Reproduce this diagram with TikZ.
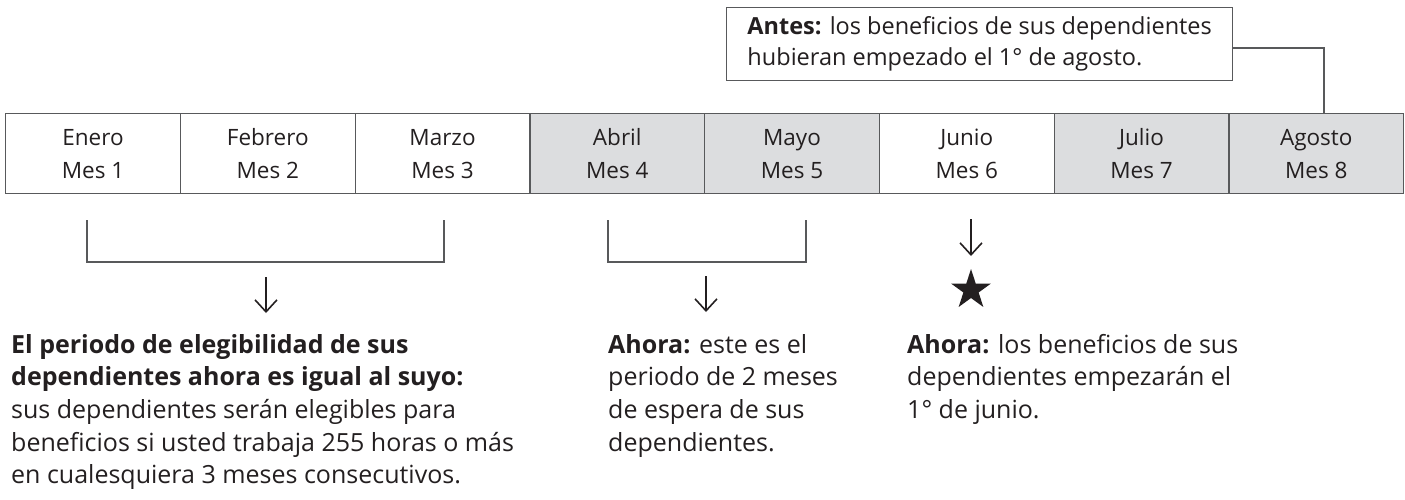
\documentclass[tikz,border=0pt]{standalone}
\usepackage{fontspec}
\setmainfont{Open Sans}
\usetikzlibrary{arrows.meta,shapes.geometric}
\definecolor{ink}{HTML}{231F20}
\definecolor{cellgray}{HTML}{DCDDDF}
\definecolor{linegray}{HTML}{58595B}
\begin{document}
\begin{tikzpicture}[x=1pt,y=-1pt,
  cell/.style={draw=linegray, line width=1.3pt, minimum width=174.75pt, minimum height=80pt,
    inner sep=0pt, align=center, font=\fontsize{22.5}{33}\selectfont, text=ink, anchor=north west},
  shaded/.style={cell, fill=cellgray},
  plain/.style={cell, fill=white},
  notebox/.style={draw=linegray, line width=1.3pt, fill=white, anchor=north west,
    minimum width=506pt, minimum height=73pt, inner sep=0pt, align=left,
    font=\fontsize{23.5}{31}\selectfont, text=ink},
  linkline/.style={draw=linegray, line width=1.3pt},
  bracketline/.style={draw=linegray, line width=1.2pt},
  downarrow/.style={draw=ink, line width=1.6pt, -{Straight Barb[length=12pt,width=22pt,line width=1.6pt]}},
  bodytext/.style={anchor=north west, inner sep=0pt, align=left, text=ink,
    font=\fontsize{25}{32.6}\selectfont}
]
\useasboundingbox (0,0) rectangle (1405,499);

% timeline
\node[plain]  (c1) at (5,113) {Enero\\Mes 1};
\node[plain]  (c2) at (179.75,113) {Febrero\\Mes 2};
\node[plain]  (c3) at (354.5,113) {Marzo\\Mes 3};
\node[shaded] (c4) at (529.25,113) {Abril\\Mes 4};
\node[shaded] (c5) at (704,113) {Mayo\\Mes 5};
\node[plain]  (c6) at (878.75,113) {Junio\\Mes 6};
\node[shaded] (c7) at (1053.5,113) {Julio\\Mes 7};
\node[shaded] (c8) at (1228.25,113) {Agosto\\Mes 8};

% note box and connector
\node[notebox] (antes) at (726,7) {\textbf{Antes:} los beneficios de sus dependientes\\hubieran empezado el 1° de agosto.};
\coordinate (ky) at (0,48);
\coordinate (k) at (1324,113);
\draw[linkline] (antes.east |- ky) -| (k);

% brackets
\coordinate (b1l) at (87,220);
\coordinate (b1r) at (444,220);
\coordinate (b1b) at (0,262);
\draw[bracketline] (b1l) -- (b1l |- b1b) -- (b1r |- b1b) -- (b1r);
\coordinate (b2l) at (608,220);
\coordinate (b2r) at (806,220);
\draw[bracketline] (b2l) -- (b2l |- b1b) -- (b2r |- b1b) -- (b2r);

% arrows
\coordinate (a1s) at (266,277);
\coordinate (a1e) at (266,313);
\draw[downarrow] (a1s) -- (a1e);
\coordinate (a2s) at (706,276);
\coordinate (a2e) at (706,312);
\draw[downarrow] (a2s) -- (a2e);
\coordinate (a3s) at (971,219);
\coordinate (a3e) at (971,256);
\draw[downarrow] (a3s) -- (a3e);
\node[star, star points=5, star point ratio=2.618, fill=ink, minimum size=42pt, inner sep=0pt] (star) at (971,290) {};

% texts
\node[bodytext] (t1) at (11,334) {\textbf{El periodo de elegibilidad de sus}\\\textbf{dependientes ahora es igual al suyo:}\\sus dependientes serán elegibles para\\beneficios si usted trabaja 255 horas o más\\en cualesquiera 3 meses consecutivos.};
\node[bodytext] (t2) at (608,334) {\textbf{Ahora:} este es el\\periodo de 2 meses\\de espera de sus\\dependientes.};
\node[bodytext] (t3) at (907,334) {\textbf{Ahora:} los beneficios de sus\\dependientes empezarán el\\1° de junio.};
\end{tikzpicture}
\end{document}
